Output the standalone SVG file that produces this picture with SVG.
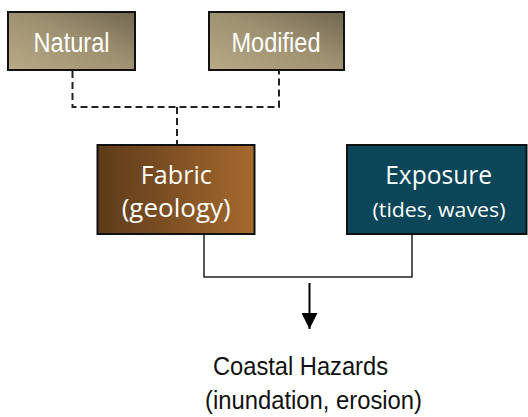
<svg xmlns="http://www.w3.org/2000/svg" width="528" height="417" viewBox="0 0 528 417">
  <defs>
    <linearGradient id="tan" x1="0" y1="1" x2="1" y2="0">
      <stop offset="0" stop-color="#b8aa86"/>
      <stop offset="0.55" stop-color="#9d9070"/>
      <stop offset="1" stop-color="#716650"/>
    </linearGradient>
    <linearGradient id="brown" x1="0" y1="0" x2="1" y2="0">
      <stop offset="0" stop-color="#5c3b1a"/>
      <stop offset="1" stop-color="#a6692e"/>
    </linearGradient>
    <marker id="arrow" viewBox="0 0 16 16" refX="16" refY="8" markerWidth="16" markerHeight="16" markerUnits="userSpaceOnUse" orient="auto">
      <path d="M0,0 L16,8 L0,16 Z" fill="#000"/>
    </marker>
    <style>
      .box { stroke: #111; stroke-width: 2; }
      .label { fill: #fff; text-anchor: middle; }
      .arial { font-family: "Liberation Sans", Arial, sans-serif; }
      .humanist { font-family: "Open Sans", "Noto Sans", sans-serif; }
      .dash { fill: none; stroke: #222; stroke-width: 2; stroke-dasharray: 7 4; }
      .solid { fill: none; stroke: #222; stroke-width: 1.5; }
      .caption { fill: #111; font-family: "Liberation Sans", Arial, sans-serif; font-size: 25px; }
    </style>
  </defs>

  <g id="connectors">
    <path class="dash" d="M72.5,71 V107 H279 V71"/>
    <path class="dash" d="M177,107 V145"/>
    <path class="solid" d="M204,221 V277 H412 V220"/>
    <line x1="309.5" y1="283" x2="309.5" y2="329" stroke="#000" stroke-width="2" marker-end="url(#arrow)"/>
  </g>

  <g id="natural">
    <rect class="box" x="8" y="12" width="127" height="58" fill="url(#tan)"/>
    <text class="label arial" x="71.5" y="52" font-size="28.5" textLength="76" lengthAdjust="spacingAndGlyphs">Natural</text>
  </g>

  <g id="modified">
    <rect class="box" x="209" y="12" width="135" height="58" fill="url(#tan)"/>
    <text class="label arial" x="276" y="52" font-size="28.5" textLength="89" lengthAdjust="spacingAndGlyphs">Modified</text>
  </g>

  <g id="fabric">
    <rect class="box" x="97.5" y="145" width="157" height="89" fill="url(#brown)"/>
    <text class="label humanist" x="176.3" y="184" font-size="25" textLength="71" lengthAdjust="spacingAndGlyphs">Fabric</text>
    <text class="label humanist" x="176.2" y="217" font-size="25" textLength="109" lengthAdjust="spacingAndGlyphs">(geology)</text>
  </g>

  <g id="exposure">
    <rect class="box" x="347" y="145" width="179.5" height="89" fill="#0a4658"/>
    <text class="label humanist" x="438.7" y="184" font-size="25" textLength="107" lengthAdjust="spacingAndGlyphs">Exposure</text>
    <text class="label humanist" x="439" y="217" font-size="20" textLength="133" lengthAdjust="spacingAndGlyphs">(tides, waves)</text>
  </g>

  <g id="coastal-hazards">
    <text class="caption" x="213" y="375" textLength="175" lengthAdjust="spacingAndGlyphs">Coastal Hazards</text>
    <text class="caption" x="205" y="409" textLength="217" lengthAdjust="spacingAndGlyphs">(inundation, erosion)</text>
  </g>
</svg>
